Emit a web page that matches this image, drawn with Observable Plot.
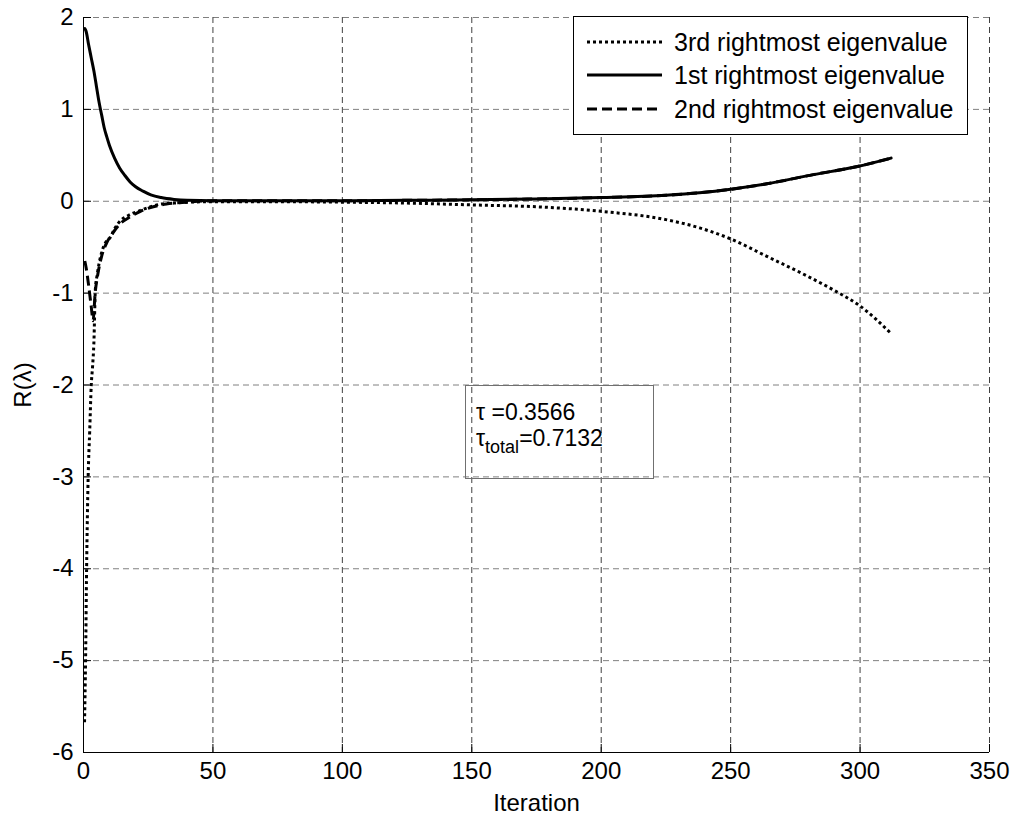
<!DOCTYPE html>
<html>
<head>
<meta charset="utf-8">
<script src="https://cdn.jsdelivr.net/npm/d3@7"></script>
<script src="https://cdn.jsdelivr.net/npm/@observablehq/plot@0.6"></script>
<style>
  html, body { margin: 0; padding: 0; background: #fff; }
  #wrap { position: relative; width: 1013px; height: 816px; font-family: "Liberation Sans", Arial, sans-serif; }
</style>
</head>
<body>
<div id="wrap"></div>
<script>
// ---- data ----
const xTicks = [0, 50, 100, 150, 200, 250, 300, 350];
const yTicks = [-6, -5, -4, -3, -2, -1, 0, 1, 2];

const firstX = [0.5,1,2,3,4,5,6,7,8,9,10,12,14,16,18,20,23,26,30,35,40,50,75,100,125,150,175,200,225,238,250,264,282,299,312];
const firstY = [1.88,1.85,1.70,1.56,1.42,1.25,1.08,0.94,0.80,0.70,0.61,0.47,0.36,0.28,0.21,0.16,0.11,0.07,0.04,0.02,0.01,0.005,0.005,0.005,0.01,0.015,0.025,0.04,0.065,0.092,0.13,0.19,0.29,0.378,0.47];

const secondX = [0.5,1,2,3,3.7,4.5,5.5,7,9,11,14,18,22,27,32,40,50,75,100,125,150,175,200,225,238,250,264,282,299,312];
const secondY = [-0.65,-0.72,-0.92,-1.15,-1.3,-1.0,-0.80,-0.60,-0.45,-0.36,-0.25,-0.17,-0.11,-0.06,-0.03,-0.01,0.005,0.005,0.005,0.01,0.015,0.025,0.04,0.065,0.092,0.13,0.19,0.29,0.378,0.47];

const thirdX = [0.4,0.8,1.2,1.8,2.4,3.0,3.5,4.0,4.6,5.3,6,7.2,8.5,10.4,12,14.3,17,22,26,30,35,40,50,75,100,125,150,175,200,225,238,250,264,280,290,300,312];
const thirdY = [-5.67,-5.0,-4.0,-3.0,-2.5,-2.0,-1.8,-1.55,-0.95,-0.80,-0.68,-0.54,-0.45,-0.39,-0.30,-0.21,-0.16,-0.10,-0.06,-0.03,-0.02,-0.01,-0.005,-0.005,-0.01,-0.02,-0.04,-0.06,-0.11,-0.20,-0.29,-0.41,-0.60,-0.82,-0.97,-1.14,-1.44];

const seriesNames = ["3rd rightmost eigenvalue", "1st rightmost eigenvalue", "2nd rightmost eigenvalue"];
const seriesDash = ["3,3", null, "10,5"];
const noteLines = ["=0.3566", "=0.7132"];

// ---- build ----
const toRows = (xs, ys) => xs.map((x, i) => ({x, y: ys[i]}));
const first = toRows(firstX, firstY);
const second = toRows(secondX, secondY);
const third = toRows(thirdX, thirdY);

const W = 1013, H = 816, mL = 83, mR = 24, mT = 17, mB = 64;
const frameW = W - mL - mR, frameH = H - mT - mB;
const fmt = d => String(d);

const chart = Plot.plot({
  width: W, height: H,
  marginLeft: mL, marginRight: mR, marginTop: mT, marginBottom: mB,
  style: {fontFamily: "'Liberation Sans', Arial, sans-serif", fontSize: "24px", color: "#000", background: "#fff", overflow: "visible"},
  x: {domain: [0, 350]},
  y: {domain: [-6, 2]},
  marks: [
    Plot.gridY(yTicks, {stroke: "#808080", strokeOpacity: 1, strokeWidth: 1, strokeDasharray: "6,4"}),
    Plot.gridX(xTicks, {stroke: "#404040", strokeOpacity: 1, strokeWidth: 1, strokeDasharray: "6,4"}),
    Plot.axisX(xTicks, {tickSize: 0, tickPadding: 9, tickFormat: fmt, label: "Iteration", labelAnchor: "center", labelArrow: "none", labelOffset: 58, fontSize: 24}),
    Plot.axisY(yTicks, {tickSize: 0, tickPadding: 10, tickFormat: fmt, label: "R(λ)", labelAnchor: "center", labelArrow: "none", labelOffset: 70, fontSize: 24}),
    Plot.tickX(xTicks, {x: d => d, insetTop: frameH - 8, stroke: "#000", strokeWidth: 1}),
    Plot.tickY(yTicks, {y: d => d, insetRight: frameW - 8, stroke: "#000", strokeWidth: 1}),
    Plot.ruleX([0], {stroke: "#000", strokeWidth: 1}),
    Plot.ruleY([-6], {stroke: "#000", strokeWidth: 1}),
    Plot.line(third, {x: "x", y: "y", curve: "monotone-x", stroke: "#000", strokeWidth: 3, strokeDasharray: seriesDash[0], strokeLinecap: "butt"}),
    Plot.line(first, {x: "x", y: "y", curve: "monotone-x", stroke: "#000", strokeWidth: 3}),
    Plot.line(second, {x: "x", y: "y", curve: "monotone-x", stroke: "#000", strokeWidth: 3, strokeDasharray: seriesDash[2], strokeLinecap: "butt"})
  ]
});

const wrap = document.getElementById("wrap");
wrap.appendChild(chart);

// legend + annotation overlay
const ns = "http://www.w3.org/2000/svg";
const ov = document.createElementNS(ns, "svg");
ov.setAttribute("width", W);
ov.setAttribute("height", H);
ov.style.position = "absolute"; ov.style.left = "0"; ov.style.top = "0";
ov.setAttribute("font-family", "'Liberation Sans', Arial, sans-serif");
const el = (tag, attrs, text) => {
  const e = document.createElementNS(ns, tag);
  for (const k in attrs) e.setAttribute(k, attrs[k]);
  if (text != null) e.textContent = text;
  ov.appendChild(e);
  return e;
};
el("rect", {x: 573.5, y: 16.5, width: 394, height: 118, fill: "#fff", stroke: "#000", "stroke-width": 1});
const rowsY = [42, 75, 109];
seriesNames.forEach((name, i) => {
  const a = {x1: 587, x2: 662, y1: rowsY[i], y2: rowsY[i], stroke: "#000", "stroke-width": 3};
  if (seriesDash[i]) a["stroke-dasharray"] = seriesDash[i];
  el("line", a);
  el("text", {x: 674, y: rowsY[i] + 9, "font-size": 25}, name);
});

// annotation box
el("rect", {x: 465.5, y: 385.5, width: 188, height: 93, fill: "none", stroke: "#707070", "stroke-width": 1});
el("text", {x: 476, y: 420, "font-size": 23}, "τ " + noteLines[0]);
const t2 = el("text", {x: 476, y: 446, "font-size": 23});
const s1 = document.createElementNS(ns, "tspan"); s1.textContent = "τ"; t2.appendChild(s1);
const s2 = document.createElementNS(ns, "tspan"); s2.setAttribute("font-size", 18); s2.setAttribute("dy", 7); s2.textContent = "total"; t2.appendChild(s2);
const s3 = document.createElementNS(ns, "tspan"); s3.setAttribute("dy", -7); s3.textContent = noteLines[1]; t2.appendChild(s3);

wrap.appendChild(ov);
</script>
</body>
</html>
